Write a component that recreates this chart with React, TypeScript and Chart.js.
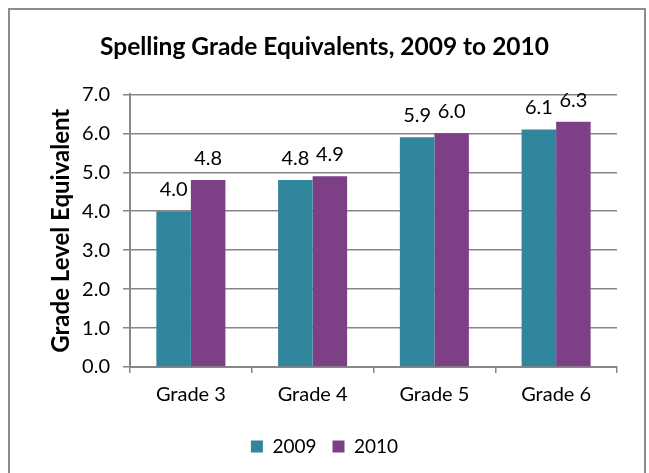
import React, { useEffect, useRef } from "react";
import { Chart, registerables } from "chart.js";

Chart.register(...registerables);

const titleText = "Spelling Grade Equivalents, 2009 to 2010";
const yAxisTitle = "Grade Level Equivalent";
const categories = ["Grade 3", "Grade 4", "Grade 5", "Grade 6"];
const seriesNames = ["2009", "2010"];
const values2009 = [4.0, 4.8, 5.9, 6.1];
const values2010 = [4.8, 4.9, 6.0, 6.3];
const yMin = 0;
const yMax = 7;
const yStep = 1;

const FONT = 'Lato, "DejaVu Sans", sans-serif';
const TEAL = "#31859c";
const PURPLE = "#7d4087";
const GRID = "#878787";

const frame = {
  id: "frame",
  beforeDraw(chart: any) {
    const { ctx, width, height } = chart;
    ctx.save();
    ctx.fillStyle = "#ffffff";
    ctx.fillRect(0, 0, width, height);
    ctx.strokeStyle = "#8c8c8c";
    ctx.lineWidth = 2;
    ctx.strokeRect(9, 9, 636, 500);
    ctx.restore();
  },
};

const yTitle = {
  id: "yTitle",
  afterDraw(chart: any) {
    const { ctx, chartArea } = chart;
    ctx.save();
    ctx.translate(61, (chartArea.top + chartArea.bottom) / 2);
    ctx.rotate(-Math.PI / 2);
    ctx.font = `bold 24px ${FONT}`;
    ctx.fillStyle = "#000000";
    ctx.textAlign = "center";
    ctx.textBaseline = "middle";
    ctx.fillText(yAxisTitle, 0, 0);
    ctx.restore();
  },
};

const valueLabels = {
  id: "valueLabels",
  afterDatasetsDraw(chart: any) {
    const { ctx } = chart;
    ctx.save();
    ctx.font = `20px ${FONT}`;
    ctx.fillStyle = "#000000";
    ctx.textAlign = "center";
    ctx.textBaseline = "alphabetic";
    chart.data.datasets.forEach((ds: any, di: number) => {
      const meta = chart.getDatasetMeta(di);
      meta.data.forEach((bar: any, i: number) => {
        const v = ds.data[i] as number;
        ctx.fillText(v.toFixed(1), bar.x, bar.y - 15);
      });
    });
    ctx.restore();
  },
};

export default function App() {
  const ref = useRef<HTMLCanvasElement | null>(null);
  useEffect(() => {
    if (!ref.current) return;
    Chart.defaults.font.family = FONT;
    Chart.defaults.color = "#000000";
    const chart = new Chart(ref.current, {
      type: "bar",
      data: {
        labels: categories,
        datasets: [
          {
            label: seriesNames[0],
            data: values2009,
            backgroundColor: TEAL,
            borderWidth: 0,
            barPercentage: 1,
            categoryPercentage: 0.567,
          },
          {
            label: seriesNames[1],
            data: values2010,
            backgroundColor: PURPLE,
            borderWidth: 0,
            barPercentage: 1,
            categoryPercentage: 0.567,
          },
        ],
      },
      options: {
        responsive: false,
        animation: false,
        devicePixelRatio: 1,
        layout: { padding: { top: 0, left: 32, right: 32, bottom: 7 } },
        plugins: {
          title: {
            display: true,
            text: titleText,
            color: "#000000",
            font: { size: 24.5, weight: "bold", family: FONT },
            padding: { top: 32, bottom: 33 },
          },
          legend: {
            display: true,
            position: "bottom",
            labels: {
              boxWidth: 12,
              boxHeight: 12,
              padding: 16,
              color: "#000000",
              font: { size: 19, family: FONT },
            },
          },
          tooltip: { enabled: false },
        },
        scales: {
          x: {
            grid: {
              display: true,
              drawOnChartArea: false,
              drawTicks: true,
              tickLength: 6,
              color: GRID,
              lineWidth: 1.5,
              offset: true,
            },
            border: { display: true, color: GRID, width: 2 },
            ticks: { padding: 10, color: "#000000", font: { size: 20, family: FONT } },
            afterFit: (s: any) => {
              s.height = 54;
            },
          },
          y: {
            min: yMin,
            max: yMax,
            ticks: {
              stepSize: yStep,
              padding: 13,
              color: "#000000",
              font: { size: 20, family: FONT },
              callback: (v: any) => Number(v).toFixed(1),
            },
            grid: { color: GRID, lineWidth: 1.5, tickLength: 7 },
            border: { display: true, color: GRID, width: 2 },
            title: { display: false },
            afterFit: (s: any) => {
              s.width = 98;
            },
          },
        },
      },
      plugins: [frame, valueLabels, yTitle],
    });
    return () => chart.destroy();
  }, []);
  return (
    <div style={{ position: "fixed", left: 0, top: 0, width: 649, height: 473 }}>
      <canvas ref={ref} width={649} height={473} style={{ width: 649, height: 473, display: "block" }} />
    </div>
  );
}
